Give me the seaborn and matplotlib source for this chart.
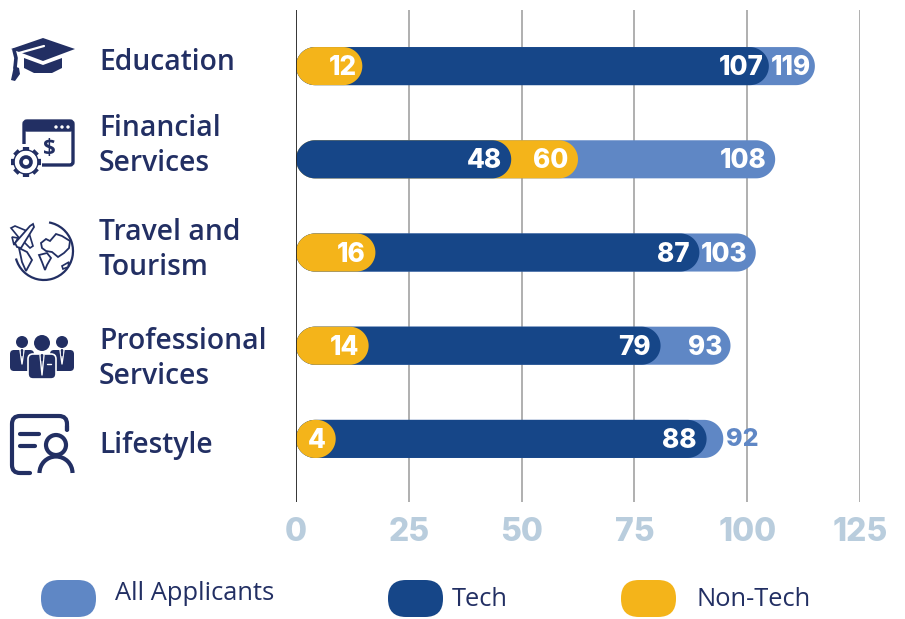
import numpy as np
import pandas as pd
import matplotlib
matplotlib.use('Agg')
import matplotlib.pyplot as plt
from matplotlib.patches import FancyBboxPatch, Circle, Polygon, Arc, Rectangle
import seaborn as sns

categories = ['Education', 'Financial\nServices', 'Travel and\nTourism', 'Professional\nServices', 'Lifestyle']
# printed numbers
all_labels = [119, 108, 103, 93, 92]
tech_labels = [107, 48, 87, 79, 88]
nontech_labels = [12, 60, 16, 14, 4]
# bar lengths as drawn in the picture (they differ a little from the printed numbers)
all_drawn = [115, 106.2, 101.9, 96.3, 94.7]
tech_drawn = [104.8, 47.7, 89.4, 80.8, 91]
nontech_drawn = [14.7, 62.5, 17.6, 16.1, 8.8]
ticks = [0, 25, 50, 75, 100, 125]

navy = '#222f63'
c_all = '#5f87c5'
c_tech = '#164688'
c_non = '#f4b41a'
c_tick = '#b9cddd'

W, H = 905, 619
sns.set_theme(style='white')
plt.rcParams['font.family'] = ['Open Sans', 'DejaVu Sans']

fig = plt.figure(figsize=(W / 100, H / 100), dpi=100)
ax = fig.add_axes([296 / W, 1 - 502 / H, (860 - 296) / W, 492 / H])

df = pd.DataFrame({'cat': categories, 'all': all_drawn, 'tech': tech_drawn, 'non': nontech_drawn})
bar_w = 38 / 93
sns.barplot(data=df, y='cat', x='all', color=c_all, width=bar_w, saturation=1, ax=ax, orient='h')
sns.barplot(data=df, y='cat', x='tech', color=c_tech, width=bar_w, saturation=1, ax=ax, orient='h')
sns.barplot(data=df, y='cat', x='non', color=c_non, width=bar_w, saturation=1, ax=ax, orient='h')

ax.set_xlim(0, 125)
ax.set_ylim(4.677, -0.602)
ax.set_xlabel('')
ax.set_ylabel('')
ax.set_yticks([])
ax.set_xticks(ticks)
ax.tick_params(axis='x', length=0, pad=11)
ax.set_xticklabels(ticks, fontfamily='Inter', fontweight='heavy', fontsize=23, color=c_tick)
sns.despine(ax=ax, left=True, right=True, top=True, bottom=True)
ax.set_axisbelow(True)
ax.grid(axis='x', color='#9a9a9a', lw=1.1)
ax.grid(axis='y', visible=False)
ax.axvline(0, color='#222222', lw=1.2, zorder=5)

# swap the square bars for real pills, the shorter segment of each row on top
px_x = 125 / (860 - 296)
px_y = (4.677 + 0.602) / 492
rects = list(ax.patches)
n = len(categories)
t = np.linspace(-np.pi / 2, np.pi / 2, 40)
for j, r in enumerate(rects):
    r.set_visible(False)
    group = j // n
    row = int(round(r.get_y() + r.get_height() / 2))
    x, w = r.get_x(), r.get_width()
    if group == 0:
        z = 2
    else:
        other = nontech_drawn[row] if group == 1 else tech_drawn[row]
        z = 4 if w < other else 3
    ry = r.get_height() / 2
    rx = ry / px_y * px_x
    right = np.c_[x + w - rx + rx * np.cos(t), row + ry * np.sin(t)]
    left = np.c_[x + rx - rx * np.cos(t), row - ry * np.sin(t)]
    ax.add_patch(Polygon(np.r_[right, left], closed=True, fc=r.get_facecolor(), ec='none', zorder=z))

# value labels, Education row sits a bit closer to the segment ends
shift = [-3, -6, -6, -6, -6]
val_font = dict(fontfamily='Inter', fontweight='heavy', fontsize=18.8, va='center', ha='right', color='white', zorder=7)
for i in range(n):
    ax.annotate(str(nontech_labels[i]), (nontech_drawn[i], i), xytext=(shift[i] - 1, -1.5),
                textcoords='offset points', **val_font)
    ax.annotate(str(tech_labels[i]), (tech_drawn[i], i), xytext=(shift[i] - 1, -1.5),
                textcoords='offset points', **val_font)
    if all_labels[i] == 92:
        ax.annotate(str(all_labels[i]), (all_drawn[i], i), xytext=(2, -0.5), textcoords='offset points',
                    **{**val_font, 'ha': 'left', 'color': c_all, 'fontsize': 18})
    else:
        ax.annotate(str(all_labels[i]), (all_drawn[i], i), xytext=(shift[i], -1.5), textcoords='offset points', **val_font)

# overlay in pixel coordinates for category names, icons and legend
ov = fig.add_axes([0, 0, 1, 1], zorder=-1)
ov.set_xlim(0, W)
ov.set_ylim(H, 0)
ov.axis('off')
ov.patch.set_alpha(0)

label_y = [63, 146, 250, 359, 446]
for name, y in zip(categories, label_y):
    ov.text(99, y, name, fontsize=20.3, fontweight='semibold', color=navy, va='center', ha='left', linespacing=1.3)


def pill_px(x0, y0, x1, y1, r, **kw):
    ov.add_patch(FancyBboxPatch((x0, y0), x1 - x0, y1 - y0, boxstyle='round,pad=0,rounding_size=%f' % r, **kw))


def cap_icon():
    ov.add_patch(Polygon([[11, 49], [43, 38], [75, 49], [43, 61]], fc=navy, ec='none'))
    ov.add_patch(Polygon([[24, 58], [43, 65], [62, 58], [62, 68], [52, 73], [34, 73], [24, 68]], fc=navy, ec='none'))
    ov.plot([19, 44], [53, 46], color='white', lw=1.6)
    ov.plot([14, 16, 15], [50, 58, 68], color=navy, lw=2.6)
    ov.add_patch(Polygon([[14, 66], [19, 68], [20, 74], [15, 81], [11, 80]], fc=navy, ec='none'))


def finance_icon():
    pill_px(24, 121, 73, 165, 3, fc='none', ec=navy, lw=2.4)
    pill_px(24, 121, 73, 131, 3, fc=navy, ec=navy, lw=1)
    for x in (56, 62, 68):
        ov.add_patch(Circle((x, 127), 1.7, fc='white', ec='none'))
    ov.text(49, 148, '$', fontsize=16, fontweight='bold', color=navy, ha='center', va='center')
    ov.add_patch(Rectangle((9, 144), 33, 36, fc='white', ec='none', zorder=2))
    for a in np.radians(np.arange(0, 360, 45)):
        ov.plot([26 + 11 * np.cos(a), 26 + 15 * np.cos(a)], [162 + 11 * np.sin(a), 162 + 15 * np.sin(a)],
                color=navy, lw=4.5, zorder=2, solid_capstyle='butt')
    ov.add_patch(Circle((26, 162), 11.5, fc='white', ec='none', zorder=3))
    ov.add_patch(Circle((26, 162), 12, fc='none', ec=navy, lw=1, zorder=3))
    ov.add_patch(Circle((26, 162), 5, fc='white', ec=navy, lw=2.6, zorder=3))


def travel_icon():
    ov.add_patch(Arc((44, 251), 58, 58, theta1=-80, theta2=165, ec=navy, lw=1.6, zorder=1))
    # continents
    ov.add_patch(Polygon([[41, 243], [46, 239], [50, 241], [56, 234], [62, 236], [70, 241], [69, 248], [64, 253],
                          [58, 257], [52, 252], [46, 251], [42, 248]], fc='white', ec=navy, lw=1.3))
    ov.add_patch(Polygon([[39, 255], [47, 253], [51, 258], [47, 265], [45, 270], [42, 262]], fc='white', ec=navy, lw=1.3))
    ov.add_patch(Polygon([[19, 248], [27, 252], [32, 260], [26, 271], [22, 262]], fc='white', ec=navy, lw=1.3))
    ov.add_patch(Polygon([[62, 266], [69, 262], [68, 267], [63, 269]], fc='white', ec=navy, lw=1.2))
    # plane
    ov.add_patch(Polygon([[15, 243], [30, 226], [33, 224], [34, 227], [21, 248], [17, 247]],
                         fc='white', ec=navy, lw=1.3, zorder=3))
    ov.add_patch(Polygon([[11, 228], [15, 226], [27, 231], [20, 239]], fc='white', ec=navy, lw=1.2, zorder=2))
    ov.add_patch(Polygon([[22, 240], [29, 233], [33, 246], [30, 248]], fc='white', ec=navy, lw=1.2, zorder=2))
    ov.add_patch(Polygon([[12, 237], [18, 238], [14, 245]], fc='white', ec=navy, lw=1.2, zorder=2))


def people_icon():
    for cx in (22, 62):
        ov.add_patch(Circle((cx, 342), 6, fc=navy, ec='none'))
        pill_px(cx - 12, 350, cx + 12, 371, 4, fc=navy, ec='none')
    ov.add_patch(Circle((42, 343), 8, fc=navy, ec='none'))
    pill_px(28, 354, 56, 379, 5, fc=navy, ec='white', lw=1.2)
    for cx, y0, y1 in [(22, 350, 364), (62, 350, 364), (42, 355, 375)]:
        ov.plot([cx - 2, cx, cx + 2], [y0, y1, y0], color='white', lw=1)
        ov.plot([cx, cx], [y0, y0 + 5], color=navy, lw=1.6)
    ov.plot([47, 51], [364, 364], color='white', lw=1)


def profile_icon():
    pill_px(12, 416, 67, 473, 8, fc='none', ec=navy, lw=3)
    ov.add_patch(Rectangle((29, 431), 42, 47, fc='white', ec='none'))
    ov.plot([67.2, 67.2], [426, 430], color=navy, lw=3, solid_capstyle='round')
    ov.plot([29, 30], [473, 473], color=navy, lw=3, solid_capstyle='round')
    ov.plot([20, 39], [434, 434], color=navy, lw=3, solid_capstyle='round')
    ov.plot([20, 35], [446, 446], color=navy, lw=3, solid_capstyle='round')
    ov.add_patch(Circle((56, 445), 10, fc='none', ec=navy, lw=3))
    ov.add_patch(Arc((56, 473), 33, 33, theta1=180, theta2=360, ec=navy, lw=3))


cap_icon()
finance_icon()
travel_icon()
people_icon()
profile_icon()

# legend
leg_names = ['All Applicants', 'Tech', 'Non-Tech']
leg_colors = [c_all, c_tech, c_non]
leg_x = [41, 388, 621]
leg_tx = [115, 452, 696]
leg_ty = [593, 600, 600]
for name, col, x, tx, ty in zip(leg_names, leg_colors, leg_x, leg_tx, leg_ty):
    pill_px(x, 580, x + 55, 617, 18, fc=col, ec='none')
    ov.text(tx, ty, name, fontsize=18.4, color=navy, va='center', ha='left')

fig.savefig('out.png', dpi=100)
